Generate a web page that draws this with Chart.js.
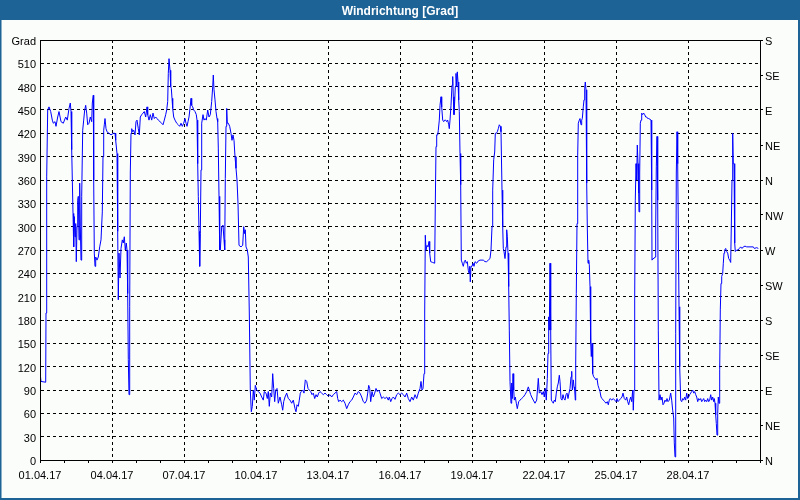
<!DOCTYPE html>
<html>
<head>
<meta charset="utf-8">
<script src="https://cdn.jsdelivr.net/npm/chart.js@4/dist/chart.umd.min.js"></script>
<style>
  html, body { margin: 0; padding: 0; background: #fbfdfb; }
  canvas { display: block; }
</style>
</head>
<body>
<canvas id="wind" width="800" height="500"></canvas>
<script>
// x-Werte: Stunden seit 01.04.17 00:00
const stunde = [
  0, 1, 5.7, 6, 6.7, 7.7, 9, 10.7, 12.3, 13.3, 15, 16, 17.7, 19, 21, 23.3, 25.7, 27.3, 29, 30.3, 31, 31.7, 33, 33.7, 34.3, 35, 35.7, 36.3, 37, 37.7, 38.3, 39, 39.7, 40.3, 41, 41.7, 42.7, 43.7, 44.7, 45.7, 46.7, 47.7, 49, 50.3, 51.7, 52.3, 53.3, 53.7, 54.3, 55, 55.7, 57, 58.3, 59.7, 61, 62.3, 63, 63.7, 64.3, 65, 66, 67, 69, 71, 73.3, 75, 75.7, 77, 77.7, 78.3, 79, 80, 81, 82.3, 83.3, 84.3, 85.3, 86.3, 87, 87.7, 88.3, 89, 89.7, 90.3, 91, 91.7, 92.7, 93.7, 95, 96, 97, 98.3, 99.3, 100.3, 101.7, 103, 104.3, 105.7, 107, 107.7, 109, 110.3, 111.7, 113, 114.3, 115.7, 117, 118.3, 120, 121.7, 123, 124.3, 125.7, 126.7, 127.7, 128.3, 129, 130, 130.7, 131.3, 132, 132.7, 133.7, 135, 136.7, 138.3, 139.7, 141, 142.3, 143.7, 145, 146, 147, 148, 149, 150, 151, 151.7, 152.7, 153.7, 155, 156.3, 157, 157.7, 158.3, 159, 159.7, 160.3, 161, 161.7, 163, 164, 165, 166.3, 167.7, 169, 170.3, 171.7, 172.7, 173.3, 174, 175, 176, 177, 177.7, 178.3, 179, 179.7, 180.3, 181.7, 183, 184, 184.7, 185.3, 186, 186.7, 187.3, 188.3, 189.7,
  191, 192, 193, 194, 195, 196, 197, 198, 199, 201, 202.7, 203.7, 204.7, 205.3, 206, 207.3, 208.3, 209.3, 210.3, 211.3, 212.3, 213.3, 214.3, 215.3, 216.7, 218.3, 220, 221.7, 223.3, 224.3, 226, 227.3, 228.3, 229.3, 230.3, 231.7, 232.7, 233.7, 234.7, 235.7, 237, 238.3, 240, 241.7, 242.7, 243.7, 245, 246.7, 248.3, 250, 251.7, 253.3, 255, 256, 257, 258.3, 259.3, 260.3, 261.3, 262.7, 264, 265.3, 266.7, 268, 269.3, 270.7, 272, 273.3, 274.7, 276, 277.3, 278.7, 280, 281.7, 283.3, 285, 286.7, 288.3, 290, 291.7, 293.3, 295, 296.7, 297.7, 298.7, 300, 301.7, 303.3, 305, 306.7, 308.3, 310, 311.7, 313.3, 315, 316.7, 318.3, 320, 321.7, 323.3, 325, 326.7, 327.7, 328.7, 329.7, 330.7, 332, 333.3, 334.7, 336, 337.3, 338.7, 340, 341.7, 343.3, 345, 346.7, 348.3, 349.3, 350.7, 352, 353.3, 355, 356.7, 358.3, 360, 361.7, 363.3, 365, 366.7, 368.3, 370, 371.7, 373.3, 375, 376.7, 378.3, 380, 381, 382, 383, 384, 384.7, 385.3, 386, 387, 388, 389,
  389.7, 390.7, 392.7, 394.7, 395.3, 396, 396.7, 397.7, 398.3, 399.3, 400, 401, 401.7, 402.7, 403.7, 404.7, 405.7, 406.7, 407.7, 408.7, 409.3, 410, 411, 412, 412.7, 413.3, 414, 414.7, 415.3, 416, 416.7, 417.3, 418, 418.7, 419.3, 420, 420.7, 421.3, 422.3, 423.3, 424.3, 425.3, 426.3, 427.3, 428.3, 429, 429.7, 430.3, 431, 432, 433, 434, 435, 436.7, 438.3, 440, 443.3, 445, 446.7, 448.3, 450, 451, 452, 452.7, 453.7, 454.7, 455.3, 456.3, 457.3, 458.3, 459.3, 460.3, 461, 462, 462.7, 463.3, 464, 465, 466, 466.7, 467.3, 468, 468.7, 469.3, 470, 471, 471.7, 472.3, 473, 473.7, 474.3, 475.3, 476.3, 477.3, 478.7, 480, 481.7, 483.3, 485, 486.7, 488.3, 489.3, 490.7, 491.7, 493.3, 495, 496.7, 498.3, 499.3, 500.7, 502, 503.3, 504.3, 505.3, 506.3, 507.3, 508, 508.7, 509.3, 510, 510.7, 511.3, 512.3, 513.3, 514.3, 515.3, 516.3, 517.3, 518.3, 519.3,
  520, 521, 522, 523, 524, 525, 526, 527, 528, 529, 530, 531, 531.7, 532.3, 533.3, 534, 534.7, 535.3, 535.7, 536.3, 537, 537.7, 538.3, 539.3, 540, 541, 541.7, 542.3, 543.3, 544, 544.7, 545.3, 546, 546.7, 547.3, 548, 548.7, 549.3, 550, 550.7, 551.3, 552, 552.7, 553.7, 555, 556, 557, 558, 559, 560, 561, 562, 563.3, 564.7, 566, 567.3, 568.3, 569.3, 570.3, 571.7, 573.3, 574.7, 576, 577, 578, 579.3, 580.7, 582, 583, 584.3, 585.7, 586.7, 587.7, 588.7, 589.7, 590.7, 591.7, 592.7, 593.3, 594, 594.7, 595.3, 596, 596.7, 597.3, 598, 598.7, 599, 599.7, 600.3, 601, 601.7, 602.7, 603.7, 604.7, 605.7, 606.7, 607.7, 608.7, 610, 611, 611.7, 612, 613, 614, 615, 615.7, 616.3, 617, 617.7, 618.3, 619, 620, 621, 622, 623, 624, 625, 626, 627, 628, 629.3, 630.7, 631.7, 632.7, 633.7, 634.3, 635, 635.7, 636.3, 637, 637.7, 638.3, 639, 639.7, 640.7, 641.7, 642.7, 643.7, 644.7, 645.7, 646.7, 647.7, 648.7, 649.7, 650.7, 651.7, 652.7, 653.7, 654.7, 655.7, 656.7, 657.7, 658.7, 659.7, 660.7, 661.7, 662.7, 663.7, 664.7, 665.7, 666.7, 667.7, 668.7, 669.7, 670.7, 671.7, 672.7, 673.7, 674.3, 675, 675.7, 676.3, 677, 677.7, 678.3, 679, 679.7, 680.3, 681, 681.7, 682.7, 683.3, 684, 684.7, 685.7, 686.7, 687.7, 688.7, 689.7, 690.7, 691.3, 692, 692.7, 693.3, 694, 694.7, 695.3, 696.7, 698, 699.3, 700.7, 702, 703.3, 705, 706.7, 710, 713.3, 714.3, 716.7, 718.3
]
// Windrichtung in Grad (ueber 360 wird weitergezaehlt, wie im Original)
const grad = [
  113, 101, 100, 189, 364, 450, 454, 448, 437, 433, 435, 429, 441, 448, 435, 433, 441, 437, 452, 459, 448, 399, 317, 274, 313, 287, 304, 255, 300, 334, 339, 283, 356, 300, 257, 339, 424, 437, 450, 456, 446, 431, 433, 441, 435, 459, 469, 360, 266, 249, 261, 257, 261, 274, 283, 319, 390, 424, 431, 439, 426, 422, 420, 418, 420, 420, 411, 394, 294, 206, 266, 234, 272, 283, 279, 287, 270, 279, 270, 214, 129, 84, 197, 369, 420, 426, 422, 424, 418, 435, 437, 426, 418, 441, 444, 446, 448, 441, 454, 444, 437, 444, 437, 446, 439, 441, 439, 437, 435, 433, 431, 437, 444, 450, 461, 497, 516, 501, 480, 478, 465, 452, 441, 437, 433, 431, 429, 433, 429, 433, 439, 433, 429, 435, 441, 452, 465, 456, 454, 450, 448, 444, 437, 381, 339, 294, 249, 291, 373, 433, 444, 437, 439, 437, 450, 441, 444, 461, 480, 495, 476, 463, 448, 439, 435, 401, 339, 270, 270, 300, 302, 283, 270, 362, 429, 452, 433, 433, 429,
  420, 411, 418, 411, 390, 375, 360, 330, 276, 274, 276, 300, 291, 296, 274, 270, 261, 189, 90, 62, 69, 90, 77, 96, 90, 88, 86, 81, 77, 88, 86, 79, 88, 69, 86, 81, 111, 92, 75, 90, 92, 73, 81, 71, 64, 75, 81, 86, 79, 77, 73, 77, 66, 62, 71, 69, 77, 86, 88, 90, 86, 103, 101, 92, 90, 88, 84, 86, 79, 84, 81, 86, 88, 86, 84, 86, 84, 82, 84, 81, 84, 86, 88, 79, 75, 77, 75, 77, 73, 66, 71, 75, 77, 81, 86, 84, 88, 86, 81, 75, 73, 77, 86, 96, 92, 75, 88, 81, 86, 92, 88, 90, 86, 79, 81, 79, 81, 77, 81, 75, 79, 81, 78, 84, 86, 84, 86, 84, 81, 86, 79, 75, 81, 77, 84, 79, 86, 92, 101, 90, 92, 111, 189, 289, 270, 276, 274, 281,
  266, 255, 254, 253, 328, 403, 418, 418, 424, 437, 456, 467, 454, 437, 435, 437, 437, 435, 437, 431, 426, 437, 456, 482, 493, 467, 444, 461, 480, 497, 480, 499, 486, 463, 448, 394, 354, 257, 253, 249, 255, 257, 253, 255, 244, 240, 249, 229, 249, 249, 253, 249, 255, 253, 256, 257, 257, 255, 255, 257, 259, 270, 300, 347, 386, 396, 420, 420, 422, 426, 431, 429, 422, 347, 300, 272, 268, 259, 274, 296, 287, 266, 223, 167, 101, 73, 99, 79, 111, 90, 77, 81, 73, 66, 75, 77, 79, 81, 84, 88, 94, 90, 84, 81, 77, 73, 77, 105, 86, 88, 84, 88, 81, 92, 77, 105, 137, 184, 167, 253, 167, 77, 75, 73, 77, 75, 86, 94, 99, 109,
  101, 79, 77, 84, 79, 77, 84, 86, 79, 86, 92, 107, 114, 90, 103, 94, 90, 77, 122, 214, 304, 392, 433, 437, 439, 431, 437, 439, 454, 463, 478, 486, 476, 356, 300, 253, 257, 251, 223, 150, 133, 150, 111, 107, 105, 103, 105, 96, 92, 88, 81, 79, 77, 75, 73, 75, 71, 77, 79, 77, 79, 77, 75, 79, 75, 77, 79, 81, 86, 79, 77, 81, 75, 71, 77, 81, 75, 90, 64, 90, 210, 334, 381, 360, 405, 381, 343, 319, 369, 433, 437, 446, 444, 446, 444, 441, 441, 439, 439, 438, 437, 347, 257, 259, 259, 261, 300, 377, 416, 334, 167, 77, 84, 77, 81, 71, 73, 77, 75, 79, 75, 77, 86, 77, 64, 54, 22, 4, 163, 369, 422, 381, 300, 197, 120, 77, 75, 79, 77, 81, 77, 86, 79, 81, 84, 86, 88, 90, 86, 88, 84, 81, 75, 79, 77, 79, 75, 77, 79, 75, 77, 75, 79, 75, 77, 84, 77, 81, 75, 79, 73, 58, 47, 32, 60, 81, 73, 116, 193, 227, 236, 240, 253, 266, 270, 272, 268, 266, 259, 257, 254, 300, 360, 420, 381, 381, 279, 268, 270, 270, 272, 274, 272, 274, 275, 274, 274, 274, 272, 273, 272
]
const datumLabels = ['01.04.17', '04.04.17', '07.04.17', '10.04.17', '13.04.17', '16.04.17', '19.04.17', '22.04.17', '25.04.17', '28.04.17']
const himmelsrichtung = ['N', 'NE', 'E', 'SE', 'S', 'SW', 'W', 'NW', 'N', 'NE', 'E', 'SE', 'S']

const punkte = stunde.map((h, i) => ({ x: h, y: grad[i] }))

const tickFont = { family: 'Liberation Sans', size: 11 }

//hintergrund, titelbalken, rahmen
const rahmenPlugin = {
  id: 'rahmen',
  beforeDraw(chart) {
    const ctx = chart.ctx
    ctx.save()
    ctx.fillStyle = '#fbfdfb'
    ctx.fillRect(0, 0, 800, 500)
    ctx.fillStyle = '#1e6396'
    ctx.fillRect(0, 0, 800, 20)
    ctx.fillRect(0, 0, 1.5, 500)
    ctx.fillRect(798, 0, 2, 500)
    ctx.fillRect(0, 498, 800, 2)
    ctx.restore()
  },
  afterDraw(chart) {
    const { ctx, chartArea } = chart
    ctx.save()
    ctx.strokeStyle = '#000'
    ctx.lineWidth = 1
    ctx.strokeRect(chartArea.left + 0.5, chartArea.top + 0.5, chartArea.right - chartArea.left, chartArea.bottom - chartArea.top)
    ctx.restore()
  }
}

new Chart(document.getElementById('wind').getContext('2d'), {
  type: 'line',
  data: {
    datasets: [{
      label: 'Windrichtung',
      data: punkte,
      borderColor: '#0000ff',
      borderWidth: 1,
      pointRadius: 0,
      tension: 0,
      fill: false
    }]
  },
  options: {
    responsive: false,
    animation: false,
    events: [],
    layout: { padding: 0 },
    plugins: {
      legend: { display: false },
      tooltip: { enabled: false },
      title: {
        display: true,
        text: 'Windrichtung [Grad]',
        color: '#ffffff',
        font: { family: 'Liberation Sans', size: 12, weight: 'bold', lineHeight: 1.2 },
        padding: { top: 4, bottom: 21.6 }
      }
    },
    scales: {
      x: {
        type: 'linear',
        min: 0,
        max: 720,
        afterFit: (s) => { s.height = 40 },
        ticks: {
          stepSize: 24,
          autoSkip: false,
          maxRotation: 0,
          padding: 6,
          color: '#000',
          font: tickFont,
          callback: (v) => (v % 72 === 0 && v < 720) ? datumLabels[v / 72] : ''
        },
        grid: {
          color: (c) => (c.tick && c.tick.value % 72 === 0) ? '#000' : 'rgba(0,0,0,0)',
          tickColor: '#000',
          tickLength: 3
        },
        border: { color: '#000', dash: [3, 3] }
      },
      y: {
        type: 'linear',
        position: 'left',
        min: 0,
        max: 540,
        afterFit: (s) => { s.width = 40 },
        ticks: {
          stepSize: 30,
          padding: 4,
          labelOffset: 2,
          color: '#000',
          font: tickFont,
          callback: (v) => v === 540 ? 'Grad' : v
        },
        grid: { color: '#000', drawTicks: false },
        border: { color: '#000', dash: [3, 3] }
      },
      y2: {
        type: 'linear',
        position: 'right',
        min: 0,
        max: 540,
        afterFit: (s) => { s.width = 40 },
        ticks: {
          stepSize: 45,
          padding: 2,
          labelOffset: 2,
          color: '#000',
          font: tickFont,
          callback: (v) => himmelsrichtung[v / 45]
        },
        grid: { drawOnChartArea: false, tickColor: '#000', tickLength: 3 },
        border: { color: '#000' }
      }
    }
  },
  plugins: [rahmenPlugin]
})
</script>
</body>
</html>
